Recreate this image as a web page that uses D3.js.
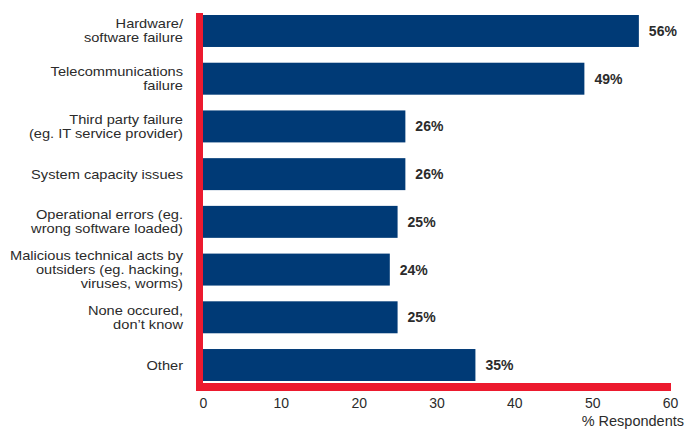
<!DOCTYPE html>
<html>
<head>
<meta charset="utf-8">
<script src="https://cdn.jsdelivr.net/npm/d3@7"></script>
<style>
  html, body { margin: 0; padding: 0; background: #fff; }
  svg { display: block; font-family: "Liberation Sans", Arial, Helvetica, sans-serif; }
</style>
</head>
<body>
<svg id="chart" width="688" height="429"></svg>
<script>
// Causes of disruption, share of respondents (%)
const categories = [
  ["Hardware/", "software failure"],
  ["Telecommunications", "failure"],
  ["Third party failure", "(eg. IT service provider)"],
  ["System capacity issues"],
  ["Operational errors (eg.", "wrong software loaded)"],
  ["Malicious technical acts by", "outsiders (eg. hacking,", "viruses, worms)"],
  ["None occured,", "don\u2019t know"],
  ["Other"]
];
const values = [56, 49, 26, 26, 25, 24, 25, 35];
const tickValues = [0, 10, 20, 30, 40, 50, 60];
const axisTitle = "% Respondents";

const svg = d3.select("#chart");
const navy = "#003a76";
const red = "#ec1a2e";
const textColor = "#2b2b2b";

const x = d3.scaleLinear().domain([0, 60]).range([203, 670]);
const y = d3.scaleBand()
  .domain(d3.range(categories.length))
  .range([15, 381])
  .paddingInner(0.33)
  .paddingOuter(0);

// bars
svg.append("g").selectAll("rect")
  .data(values)
  .join("rect")
  .attr("x", x(0))
  .attr("y", (d, i) => y(i))
  .attr("width", d => x(d) - x(0))
  .attr("height", y.bandwidth())
  .attr("fill", navy);

// value labels
svg.append("g").selectAll("text")
  .data(values)
  .join("text")
  .attr("x", d => x(d) + 10)
  .attr("y", (d, i) => y(i) + y.bandwidth() / 2)
  .attr("dy", "0.36em")
  .attr("font-size", 14)
  .attr("font-weight", "bold")
  .attr("fill", textColor)
  .text(d => d + "%");

// category labels: multi-line, right aligned, slightly wide lettering
const lineH = 14;
const catG = svg.append("g");
categories.forEach((lines, i) => {
  const cy = y(i) + y.bandwidth() / 2;
  const t = catG.append("text")
    .attr("transform", `translate(183,${cy}) scale(1.17,1)`)
    .attr("text-anchor", "end")
    .attr("font-size", 12.5)
    .attr("fill", textColor);
  lines.forEach((ln, k) => {
    t.append("tspan")
      .attr("x", 0)
      .attr("y", (k - (lines.length - 1) / 2) * lineH)
      .attr("dy", "0.36em")
      .text(ln);
  });
});

// red axis frame
svg.append("rect")
  .attr("x", 196).attr("y", 13)
  .attr("width", 7).attr("height", 378)
  .attr("fill", red);
svg.append("rect")
  .attr("x", 196).attr("y", 383)
  .attr("width", 475).attr("height", 8)
  .attr("fill", red);

// x tick labels
const xAxis = d3.axisBottom(x).tickValues(tickValues).tickSize(0).tickPadding(0);
const ax = svg.append("g").attr("transform", "translate(0,398)").call(xAxis);
ax.select(".domain").remove();
ax.selectAll("text")
  .attr("font-size", 14)
  .attr("font-family", "\"Liberation Sans\", Arial, sans-serif")
  .attr("fill", textColor)
  .attr("dy", "0.71em");

// axis title
svg.append("text")
  .attr("x", 684)
  .attr("y", 426)
  .attr("text-anchor", "end")
  .attr("font-size", 14.5)
  .attr("fill", textColor)
  .text(axisTitle);
</script>
</body>
</html>
